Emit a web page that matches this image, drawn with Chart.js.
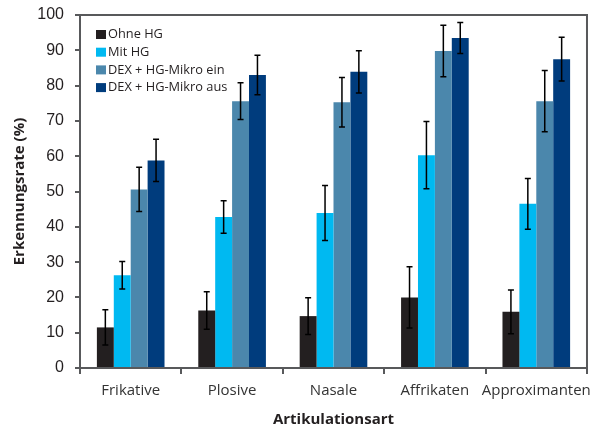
<!DOCTYPE html>
<html>
<head>
<meta charset="utf-8">
<script src="https://cdn.jsdelivr.net/npm/chart.js@4/dist/chart.umd.min.js"></script>
<style>
  body { margin: 0; background: #fff; }
  #chart { display: block; }
</style>
</head>
<body>
<canvas id="chart" width="599" height="429"></canvas>
<script>
const categories = ["Frikative", "Plosive", "Nasale", "Affrikaten", "Approximanten"];
const ohneHG = [11.5, 16.3, 14.7, 20.0, 15.9];
const ohneHGErr = [5.0, 5.3, 5.2, 8.7, 6.2];
const mitHG = [26.3, 42.8, 43.9, 60.3, 46.5];
const mitHGErr = [3.9, 4.6, 7.8, 9.5, 7.2];
const dexEin = [50.6, 75.6, 75.3, 89.8, 75.6];
const dexEinErr = [6.3, 5.2, 7.0, 7.3, 8.7];
const dexAus = [58.8, 83.0, 83.9, 93.5, 87.5];
const dexAusErr = [6.0, 5.6, 6.0, 4.4, 6.2];

const axisColor = "#58595b";
const textColor = "#231f20";

// error bars drawn from the err arrays through the y scale
const errorBars = {
  id: "errorBars",
  afterDatasetsDraw(chart) {
    const ctx = chart.ctx;
    const y = chart.scales.y;
    ctx.save();
    ctx.strokeStyle = "#000";
    ctx.lineWidth = 1.5;
    chart.data.datasets.forEach((ds, di) => {
      const meta = chart.getDatasetMeta(di);
      meta.data.forEach((bar, i) => {
        const v = ds.data[i];
        const e = ds.err[i];
        const top = y.getPixelForValue(v + e);
        const bot = y.getPixelForValue(v - e);
        ctx.beginPath();
        ctx.moveTo(bar.x, top);
        ctx.lineTo(bar.x, bot);
        ctx.moveTo(bar.x - 3, top);
        ctx.lineTo(bar.x + 3, top);
        ctx.moveTo(bar.x - 3, bot);
        ctx.lineTo(bar.x + 3, bot);
        ctx.stroke();
      });
    });
    ctx.restore();
  }
};

// top and right frame + legend inside the plot
const frameAndLegend = {
  id: "frameAndLegend",
  afterDraw(chart) {
    const ctx = chart.ctx;
    const a = chart.chartArea;
    ctx.save();
    ctx.strokeStyle = axisColor;
    ctx.lineWidth = 2;
    ctx.beginPath();
    ctx.moveTo(a.left - 5, a.top);
    ctx.lineTo(a.right, a.top);
    ctx.lineTo(a.right, a.bottom);
    ctx.stroke();

    ctx.font = "12.8px 'Open Sans'";
    ctx.textBaseline = "middle";
    chart.data.datasets.forEach((ds, i) => {
      const cy = a.top + 19.5 + i * 17.7;
      ctx.fillStyle = ds.backgroundColor;
      ctx.fillRect(a.left + 16, cy - 4.5, 10, 9);
      ctx.fillStyle = textColor;
      ctx.fillText(ds.label, a.left + 28, cy);
    });
    ctx.restore();
  }
};

new Chart(document.getElementById("chart"), {
  type: "bar",
  data: {
    labels: categories,
    datasets: [
      { label: "Ohne HG", data: ohneHG, err: ohneHGErr, backgroundColor: "#231f20" },
      { label: "Mit HG", data: mitHG, err: mitHGErr, backgroundColor: "#00b9f1" },
      { label: "DEX + HG-Mikro ein", data: dexEin, err: dexEinErr, backgroundColor: "#4b87ac" },
      { label: "DEX + HG-Mikro aus", data: dexAus, err: dexAusErr, backgroundColor: "#003c7d" },
    ],
  },
  options: {
    responsive: false,
    animation: false,
    categoryPercentage: 0.667,
    barPercentage: 1,
    layout: { padding: { top: 15, right: 2, left: 0, bottom: 0 } },
    plugins: {
      legend: { display: false },
      tooltip: { enabled: false },
    },
    scales: {
      x: {
        grid: {
          offset: true,
          drawOnChartArea: false,
          drawTicks: true,
          tickLength: 6,
          color: axisColor,
          lineWidth: 2,
        },
        border: { display: true, color: axisColor, width: 2 },
        ticks: {
          autoSkip: false,
          color: "#333",
          font: { family: "'Open Sans'", size: 15 },
          padding: 8,
          maxRotation: 0,
        },
        title: {
          display: true,
          text: "Artikulationsart",
          color: textColor,
          font: { family: "'Open Sans'", size: 15, weight: "bold" },
          padding: { top: 0, bottom: 0 },
        },
        afterFit(scale) { scale.height = 61; },
      },
      y: {
        min: 0,
        max: 100,
        grid: {
          drawOnChartArea: false,
          drawTicks: true,
          tickLength: 5,
          color: axisColor,
          lineWidth: 2,
        },
        border: { display: true, color: axisColor, width: 2 },
        ticks: {
          stepSize: 10,
          color: textColor,
          font: { family: "'Liberation Sans'", size: 16 },
          padding: 11,
        },
        title: {
          display: true,
          text: "Erkennungsrate (%)",
          color: textColor,
          font: { family: "'Open Sans'", size: 15, weight: "bold" },
          padding: { top: 11, bottom: 0 },
        },
        afterFit(scale) {
          scale.width = 80;
          scale.paddingTop = 0;
          scale.paddingBottom = 0;
        },
      },
    },
  },
  plugins: [errorBars, frameAndLegend],
});
</script>
</body>
</html>
